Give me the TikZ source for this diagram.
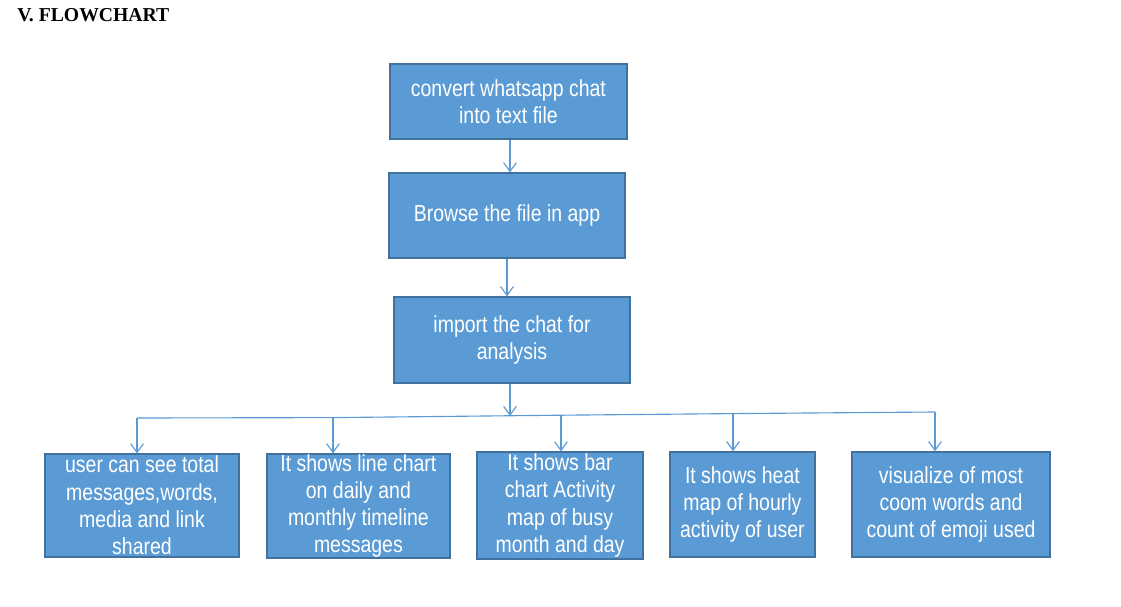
\documentclass[tikz,border=0pt]{standalone}
\usepackage{fontspec}
\setmainfont{Liberation Sans}[FakeStretch=0.84]
\newfontfamily\titlefont{Liberation Serif}
\usepackage{tikz}
\usetikzlibrary{positioning}
\usetikzlibrary{arrows.meta}
\usetikzlibrary{calc}
\definecolor{boxfill}{HTML}{5B9BD5}
\definecolor{boxline}{HTML}{41719C}
\definecolor{arrline}{HTML}{5B9BD5}
\tikzset{>={Straight Barb[length=2.2mm,width=3.2mm]}}
\tikzstyle{flowbox}=[draw=boxline,line width=1pt,shape=rectangle,fill=boxfill,text=white,align=center,inner sep=0pt,font=\fontsize{16.5}{19.4}\selectfont]
\tikzstyle{farr}=[->,line width=0.8pt,color=arrline]
\tikzstyle{fline}=[line width=0.8pt,color=arrline]

\begin{document}
\begin{tikzpicture}
	\useasboundingbox[fill=white] (0, 0) rectangle (28.025, -15.15);
	
	% Title
	\node[anchor = base west, inner sep = 0pt] (title) at (0.425, -0.53) {\titlefont\fontsize{14}{16}\selectfont\bfseries V. FLOWCHART};
	
	% Main column
	\node[flowbox, minimum width = 5.925cm, minimum height = 1.875cm] (conv) at (12.71, -2.54) {convert whatsapp chat\\into text file};
	\node[flowbox, minimum width = 5.9cm, minimum height = 2.125cm] (brw) at (12.675, -5.39) {Browse the file in app};
	\node[flowbox, minimum width = 5.9cm, minimum height = 2.15cm] (imp) at (12.8, -8.5) {import the chat for\\analysis};
	\coordinate (c1) at ($(conv.south) + (0.04, 0)$);
	\draw[farr] (c1) -- (c1 |- brw.north);
	\draw[farr] (brw.south) -- (brw.south |- imp.north);
	
	% Outputs
	\node[flowbox, minimum width = 4.85cm, minimum height = 2.575cm] (stats) at (3.55, -12.64) {user can see total\\messages,words,\\media and link\\shared};
	\node[flowbox, minimum width = 4.575cm, minimum height = 2.6cm] (tline) at (8.96, -12.65) {It shows line chart\\on daily and\\monthly timeline\\messages};
	\node[flowbox, minimum width = 4.15cm, minimum height = 2.675cm] (busy) at (14.0, -12.64) {It shows bar\\chart Activity\\map of busy\\month and day};
	\node[flowbox, minimum width = 3.625cm, minimum height = 2.625cm] (heat) at (18.56, -12.61) {It shows heat\\map of hourly\\activity of user};
	\node[flowbox, minimum width = 4.95cm, minimum height = 2.625cm] (words) at (23.775, -12.61) {visualize of most\\coom words and\\count of emoji used};
	
	% Branch line
	\coordinate (c3) at ($(imp.south) + (-0.05, 0)$);
	\coordinate (bus) at (12.75, -10.4);
	\coordinate (d1) at (3.425, -10.45);
	\coordinate (d2) at (8.325, -10.44);
	\coordinate (d3) at (14.025, -10.38);
	\coordinate (d4) at (18.325, -10.34);
	\coordinate (d5) at (23.375, -10.3);
	\draw[farr] (c3) -- (bus);
	\draw[fline] (d1) -- (d2) -- (d3) -- (d4) -- (d5);
	\draw[farr] (d1) -- (d1 |- stats.north);
	\draw[farr] (d2) -- (d2 |- tline.north);
	\draw[farr] (d3) -- (d3 |- busy.north);
	\draw[farr] (d4) -- (d4 |- heat.north);
	\draw[farr] (d5) -- (d5 |- words.north);
	
\end{tikzpicture}
\end{document}
